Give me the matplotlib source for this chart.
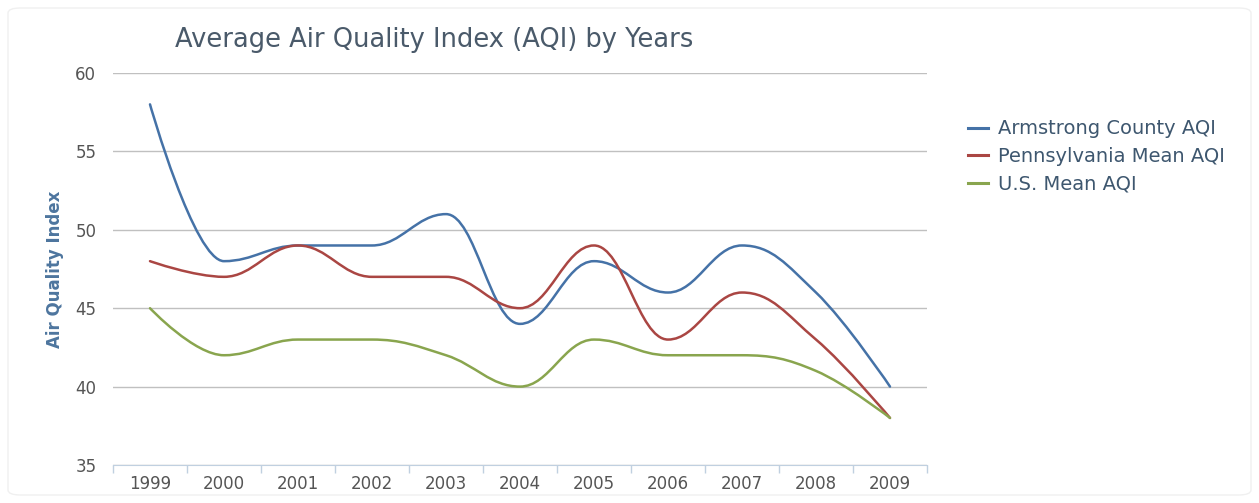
import numpy as np
import matplotlib
matplotlib.use('Agg')
import matplotlib.pyplot as plt
from matplotlib.path import Path
from matplotlib.patches import PathPatch, FancyBboxPatch
from matplotlib.lines import Line2D

years = ['1999', '2000', '2001', '2002', '2003', '2004', '2005', '2006', '2007', '2008', '2009']
armstrong = [58, 48, 49, 49, 51, 44, 48, 46, 49, 46, 40]
pennsylvania = [48, 47, 49, 47, 47, 45, 49, 43, 46, 43, 38]
us_mean = [45, 42, 43, 43, 42, 40, 43, 42, 42, 41, 38]

series_names = ['Armstrong County AQI', 'Pennsylvania Mean AQI', 'U.S. Mean AQI']
colors = ['#4572A7', '#AA4643', '#89A54E']


def spline_path(xs, ys, smoothing=1.5):
    # same control point rule as the highcharts spline series
    n = len(xs)
    denom = smoothing + 1
    lc = [(xs[i], ys[i]) for i in range(n)]
    rc = [(xs[i], ys[i]) for i in range(n)]
    for i in range(1, n - 1):
        x, y = xs[i], ys[i]
        lx = (smoothing * x + xs[i - 1]) / denom
        ly = (smoothing * y + ys[i - 1]) / denom
        rx = (smoothing * x + xs[i + 1]) / denom
        ry = (smoothing * y + ys[i + 1]) / denom
        if rx != lx:
            corr = ((ry - ly) * (rx - x)) / (rx - lx) + y - ry
            ly += corr
            ry += corr
        last, nxt = ys[i - 1], ys[i + 1]
        if ly > last and ly > y:
            ly = max(last, y)
            ry = 2 * y - ly
        elif ly < last and ly < y:
            ly = min(last, y)
            ry = 2 * y - ly
        if ry > nxt and ry > y:
            ry = max(nxt, y)
            ly = 2 * y - ry
        elif ry < nxt and ry < y:
            ry = min(nxt, y)
            ly = 2 * y - ry
        lc[i] = (lx, ly)
        rc[i] = (rx, ry)
    verts = [(xs[0], ys[0])]
    codes = [Path.MOVETO]
    for i in range(1, n):
        verts += [rc[i - 1], lc[i], (xs[i], ys[i])]
        codes += [Path.CURVE4] * 3
    return Path(verts, codes)


W, H = 1259, 503
fig = plt.figure(figsize=(W / 100, H / 100), dpi=100)
fig.patch.set_facecolor('white')

# faint chart border
fig.patches.append(FancyBboxPatch((8 / W, 8 / H), 1 - 16 / W, 1 - 16 / H,
                                  boxstyle='round,pad=0,rounding_size=0.01',
                                  transform=fig.transFigure, fill=False,
                                  edgecolor='#F0F0F0', lw=1))

ax = fig.add_axes([113 / W, 1 - 465 / H, (927 - 113) / W, (465 - 73) / H])
ax.set_xlim(-0.5, len(years) - 0.5)
ax.set_ylim(35, 60)

xs = np.arange(len(years))
for vals, c in zip([armstrong, pennsylvania, us_mean], colors):
    p = spline_path(list(xs), vals)
    ax.add_patch(PathPatch(p, fill=False, edgecolor=c, lw=1.8, capstyle='round',
                           joinstyle='round', zorder=3))

ax.set_yticks([35, 40, 45, 50, 55, 60])
ax.yaxis.grid(True, color='#C0C0C0', lw=1)
ax.set_axisbelow(True)
for s in ['top', 'right', 'left']:
    ax.spines[s].set_visible(False)
ax.spines['bottom'].set_color('#C0D0E0')
ax.spines['bottom'].set_zorder(2)

ax.set_xticks(xs)
ax.set_xticklabels(years)
ax.set_xticks(np.arange(-0.5, len(years)), minor=True)
ax.tick_params(axis='x', which='major', length=0, pad=7, labelsize=12, labelcolor='#555555')
ax.tick_params(axis='x', which='minor', length=6, color='#C0D0E0', width=1)
ax.tick_params(axis='y', length=0, pad=12, labelsize=12, labelcolor='#555555')

ax.set_ylabel('Air Quality Index', fontsize=12, fontweight='bold', color='#4D759E', labelpad=8)

fig.text(434 / W, 1 - 40 / H, 'Average Air Quality Index (AQI) by Years',
         ha='center', va='center', fontsize=18.5, color='#4A5A6A')

handles = [Line2D([], [], color=c, lw=2.2) for c in colors]
fig.legend(handles, series_names, loc='upper left', bbox_to_anchor=(950 / W, 1 - 102 / H),
           frameon=False, fontsize=14, handlelength=1.05, handletextpad=0.5,
           labelspacing=0.45, labelcolor='#3E576F')

fig.savefig('out.png', dpi=100)
